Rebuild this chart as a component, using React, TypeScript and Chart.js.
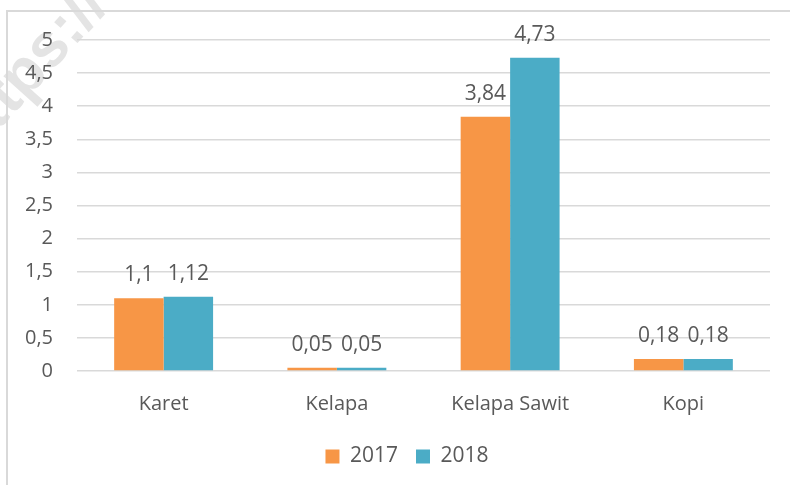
import React, { useEffect, useRef } from "react";
import { Chart, registerables } from "chart.js";

Chart.register(...registerables);

const categories = ["Karet", "Kelapa", "Kelapa Sawit", "Kopi"];
const series2017 = [1.1, 0.05, 3.84, 0.18];
const series2018 = [1.12, 0.05, 4.73, 0.18];
const seriesLabels = ["2017", "2018"];
const yTicksMin = 0;
const yTicksMax = 5;
const yTickStep = 0.5;

const FONT = "'Open Sans', 'DejaVu Sans', sans-serif";
const TEXT = "#595959";
const fmt = (v: number) => String(v).replace(".", ",");

const framePlugin = {
  id: "frame",
  afterLayout(chart: any) {
    if (chart.legend) {
      chart.legend.left = 44;
    }
  },
  beforeDraw(chart: any) {
    const ctx = chart.ctx;
    ctx.save();
    ctx.fillStyle = "#ffffff";
    ctx.fillRect(0, 0, chart.width, chart.height);
    // watermark
    ctx.translate(-28, 160);
    ctx.rotate((-48 * Math.PI) / 180);
    ctx.font = "bold 62px 'Liberation Sans', sans-serif";
    ctx.fillStyle = "#e4e4e4";
    ctx.textBaseline = "alphabetic";
    ctx.fillText("https://", 0, 0);
    ctx.restore();
    ctx.save();
    ctx.strokeStyle = "#d9d9d9";
    ctx.lineWidth = 2;
    ctx.beginPath();
    ctx.moveTo(7, chart.height + 5);
    ctx.lineTo(7, 11);
    ctx.lineTo(chart.width + 5, 11);
    ctx.stroke();
    ctx.restore();
  },
};

const valueLabelPlugin = {
  id: "valueLabels",
  afterDatasetsDraw(chart: any) {
    const ctx = chart.ctx;
    ctx.save();
    ctx.font = `21px ${FONT}`;
    ctx.fillStyle = TEXT;
    ctx.textAlign = "center";
    ctx.textBaseline = "alphabetic";
    chart.data.datasets.forEach((ds: any, i: number) => {
      const meta = chart.getDatasetMeta(i);
      meta.data.forEach((el: any, j: number) => {
        ctx.fillText(fmt(ds.data[j]), el.x, el.y - 17);
      });
    });
    ctx.restore();
  },
};

export default function App() {
  const ref = useRef<HTMLCanvasElement>(null);
  useEffect(() => {
    if (!ref.current) return;
    const chart = new Chart(ref.current, {
      type: "bar",
      data: {
        labels: categories,
        datasets: [
          { label: seriesLabels[0], data: series2017, backgroundColor: "#F79646" },
          { label: seriesLabels[1], data: series2018, backgroundColor: "#4BACC6" },
        ],
      },
      options: {
        responsive: false,
        animation: false,
        devicePixelRatio: 1,
        layout: { padding: { left: 0, right: 20, top: 40, bottom: 8 } },
        datasets: { bar: { categoryPercentage: 0.571, barPercentage: 1 } },
        scales: {
          x: {
            grid: { display: false },
            border: { display: false },
            ticks: { color: TEXT, font: { family: FONT, size: 20 }, padding: 13 },
            afterFit: (s: any) => { s.height = 57; },
          },
          y: {
            min: yTicksMin,
            max: yTicksMax,
            grid: { color: "#d9d9d9", lineWidth: 1.5, drawTicks: false },
            border: { display: false },
            ticks: {
              stepSize: yTickStep,
              color: TEXT,
              font: { family: FONT, size: 20 },
              padding: 24,
              callback: (v: any) => fmt(Number(v)),
            },
            afterFit: (s: any) => { s.width = 77; },
          },
        },
        plugins: {
          legend: {
            position: "bottom",
            labels: {
              boxWidth: 14,
              boxHeight: 14,
              padding: 18,
              color: TEXT,
              font: { family: FONT, size: 21 },
            },
          },
          tooltip: { enabled: false },
        },
      },
      plugins: [framePlugin, valueLabelPlugin],
    } as any);
    return () => chart.destroy();
  }, []);
  return (
    <div style={{ position: "fixed", left: 0, top: 0, width: 790, height: 485, overflow: "hidden", background: "#fff" }}>
      <canvas ref={ref} width={790} height={485} style={{ display: "block" }} />
    </div>
  );
}
